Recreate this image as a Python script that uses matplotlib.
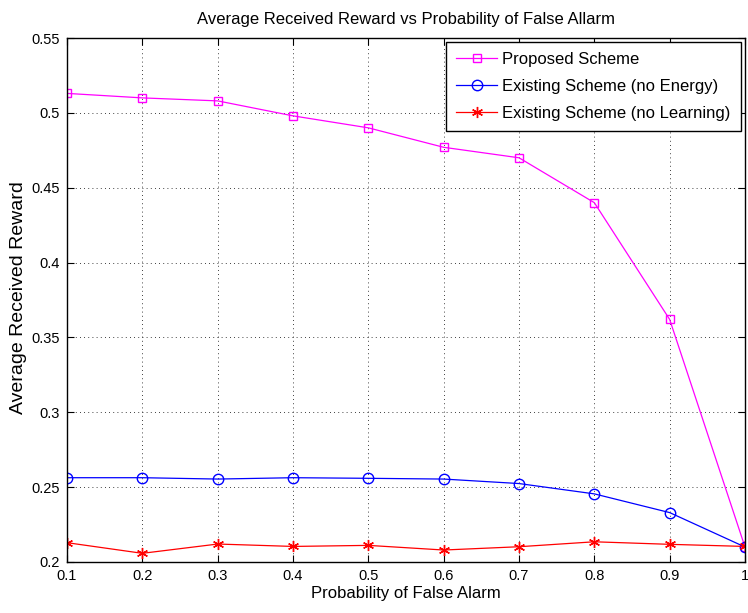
import numpy as np
import matplotlib.pyplot as plt

# data
pfa = [0.1, 0.2, 0.3, 0.4, 0.5, 0.6, 0.7, 0.8, 0.9, 1.0]
proposed = [0.513, 0.510, 0.508, 0.498, 0.490, 0.477, 0.470, 0.440, 0.362, 0.210]
no_energy = [0.2563, 0.2563, 0.2554, 0.2563, 0.2559, 0.2554, 0.2524, 0.2455, 0.2330, 0.2100]
no_learning = [0.2129, 0.2058, 0.2120, 0.2104, 0.2111, 0.2080, 0.2102, 0.2135, 0.2118, 0.2104]

plt.rcParams['font.family'] = ['Liberation Sans', 'DejaVu Sans']

fig = plt.figure(figsize=(7.48, 6.13), dpi=100)
ax = fig.add_axes([0.0896, 0.0832, 0.9064, 0.8548])

ax.plot(pfa, proposed, color='magenta', marker='s', markersize=6, markerfacecolor='none',
        linewidth=0.9, label='Proposed Scheme')
ax.plot(pfa, no_energy, color='blue', marker='o', markersize=7.5, markerfacecolor='none',
        linewidth=0.9, label='Existing Scheme (no Energy)')
ax.plot(pfa, no_learning, color='red', marker=(6, 2, 0), markersize=8,
        linewidth=0.9, label='Existing Scheme (no Learning)')

ax.set_xlim(0.1, 1.0)
ax.set_ylim(0.2, 0.55)
ax.set_xticks(pfa)
ax.set_xticklabels(['0.1', '0.2', '0.3', '0.4', '0.5', '0.6', '0.7', '0.8', '0.9', '1'])
ax.set_yticks([0.2, 0.25, 0.3, 0.35, 0.4, 0.45, 0.5, 0.55])
ax.set_yticklabels(['0.2', '0.25', '0.3', '0.35', '0.4', '0.45', '0.5', '0.55'])
ax.tick_params(direction='in', top=True, right=True, labelsize=10.5, length=5, pad=5)
ax.grid(True, linestyle=(0, (1, 4)), color='black', linewidth=0.6)
for s in ax.spines.values():
    s.set_linewidth(1.0)

ax.set_title('Average Received Reward vs Probability of False Allarm', fontsize=12, pad=10)
ax.set_xlabel('Probability of False Alarm', fontsize=12, labelpad=2)
ax.set_ylabel('Average Received Reward', fontsize=14)
ax.yaxis.set_label_coords(-0.059, 0.505)

leg = ax.legend(loc='upper right', fontsize=12, fancybox=False, framealpha=1,
                edgecolor='black', borderaxespad=0.25, handlelength=2.5,
                handletextpad=0.3, labelspacing=0.72, borderpad=0.6)
leg.get_frame().set_linewidth(1.0)

fig.savefig('out.png', dpi=100)
